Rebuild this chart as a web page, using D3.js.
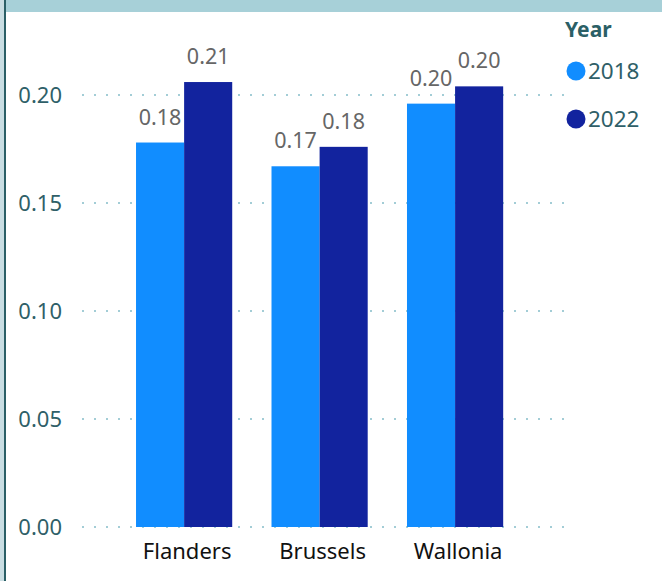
<!DOCTYPE html>
<html><head><meta charset="utf-8">
<script src="https://cdn.jsdelivr.net/npm/d3@7"></script>
<style>
html,body{margin:0;padding:0;background:#fff;}
svg{display:block;font-family:"Segoe UI","Noto Sans","Open Sans",sans-serif;}
</style></head>
<body>
<svg id="c" width="662" height="581"></svg>
<script>
const categories = ["Flanders","Brussels","Wallonia"];
const years = ["2018","2022"];
const values2018 = [0.178, 0.167, 0.196];
const values2022 = [0.206, 0.176, 0.204];
const labels2018 = ["0.18","0.17","0.20"];
const labels2022 = ["0.21","0.18","0.20"];
const yTicks = [0, 0.05, 0.10, 0.15, 0.20];
const colors = ["#118DFF","#12239E"];
const FONT = "Segoe UI, Noto Sans, sans-serif";

const svg = d3.select("#c");
// frame
svg.append("rect").attr("x",0).attr("y",0).attr("width",662).attr("height",12).attr("fill","#a7d0d8");
svg.append("rect").attr("x",0).attr("y",0).attr("width",4).attr("height",581).attr("fill","#c9dde2");
svg.append("rect").attr("x",4).attr("y",0).attr("width",2).attr("height",581).attr("fill","#2b5f66");

const y = d3.scaleLinear().domain([0,0.2]).range([527,95]);
const x0 = d3.scaleBand().domain(categories).range([115.7,523.5]).paddingInner(0.29).paddingOuter(0.15);
const x1 = d3.scaleBand().domain(years).range([0,x0.bandwidth()]);

// gridlines
svg.append("g").selectAll("line").data(yTicks).join("line")
  .attr("x1",82).attr("x2",566)
  .attr("y1",d=>y(d)).attr("y2",d=>y(d))
  .attr("stroke","#a3cdd6").attr("stroke-width",2)
  .attr("stroke-dasharray","2,10");

// y axis labels
const yAxis = d3.axisLeft(y).tickValues(yTicks).tickFormat(d3.format(".2f")).tickSize(0).tickPadding(0);
const ya = svg.append("g").attr("transform","translate(62,0)").call(yAxis);
ya.select(".domain").remove();
ya.selectAll("text").attr("fill","#2f5f68").attr("font-size","22px").attr("font-family",FONT);

// bars
const series = [values2018, values2022];
const seriesLabels = [labels2018, labels2022];
const g = svg.append("g");
years.forEach((yr,si)=>{
  g.append("g").selectAll("rect").data(categories).join("rect")
    .attr("x",c=>x0(c)+x1(yr))
    .attr("width",x1.bandwidth())
    .attr("y",(c,i)=>y(series[si][i]))
    .attr("height",(c,i)=>y(0)-y(series[si][i]))
    .attr("fill",colors[si]);
  g.append("g").selectAll("text").data(categories).join("text")
    .attr("x",c=>x0(c)+x1(yr)+x1.bandwidth()/2)
    .attr("y",(c,i)=>y(series[si][i])-18)
    .attr("text-anchor","middle")
    .attr("fill","#666666").attr("font-size","21.5px")
    .text((c,i)=>seriesLabels[si][i]);
});

// x axis labels
const xAxis = d3.axisBottom(x0).tickSize(0).tickPadding(0);
const xa = svg.append("g").attr("transform","translate(3,559)").call(xAxis);
xa.select(".domain").remove();
xa.selectAll("text").attr("fill","#111111").attr("font-size","22px").attr("dy","0").attr("y",0).attr("font-family",FONT);

// legend
svg.append("text").attr("x",565).attr("y",37).attr("font-size","21px").attr("font-weight","bold").attr("fill","#2b5f66").text("Year");
const lg = svg.append("g").selectAll("g").data(years).join("g")
  .attr("transform",(d,i)=>`translate(0,${71+i*48})`);
lg.append("circle").attr("cx",576).attr("cy",0).attr("r",9.5).attr("fill",(d,i)=>colors[i]);
lg.append("text").attr("x",588).attr("y",0).attr("dy","0.36em").attr("font-size","22.5px").attr("fill","#2f5f68").text(d=>d);
</script>
</body></html>
